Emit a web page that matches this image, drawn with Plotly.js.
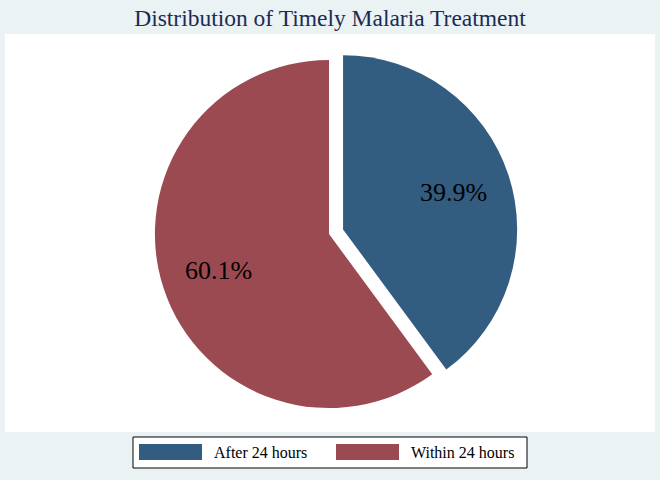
<!DOCTYPE html>
<html>
<head>
<meta charset="utf-8">
<script src="https://cdn.plot.ly/plotly-3.0.1.min.js"></script>
<style>html,body{margin:0;padding:0;background:#EAF2F3;}</style>
</head>
<body>
<div id="chart" style="width:660px;height:480px;"></div>
<script>
const labels = ["After 24 hours", "Within 24 hours"];
const values = [39.9, 60.1];
const colors = ["#335C81", "#9C4A51"];
const pulls = [0.085, 0];

const SERIF = "Liberation Serif";
const W = 660, H = 480;
const dom = {x: [0.212, 0.785], y: [0.119, 0.906]};

const trace = {
  type: "pie",
  labels: labels,
  values: values,
  sort: false,
  direction: "clockwise",
  rotation: 0,
  pull: pulls,
  marker: {colors: colors, line: {width: 0}},
  textinfo: "none",
  hoverinfo: "label+percent",
  showlegend: false,
  domain: dom
};

// slice labels placed along each slice's mid-angle
const total = values.reduce((a, b) => a + b, 0);
const cxPx = (dom.x[0] + dom.x[1]) / 2 * W;
const cyPx = (dom.y[0] + dom.y[1]) / 2 * H;
const maxPull = Math.max(...pulls);
const rPx = Math.min((dom.x[1] - dom.x[0]) * W, (dom.y[1] - dom.y[0]) * H) / 2 / (1 + maxPull);
const annotations = [];
let cum = 0;
values.forEach((v, i) => {
  const mid = (cum + v / 2) / total * 2 * Math.PI;
  cum += v;
  const d = rPx * (pulls[i] + 0.67);
  annotations.push({
    xref: "paper", yref: "paper",
    x: (cxPx + d * Math.sin(mid)) / W,
    y: (cyPx + d * Math.cos(mid)) / H,
    text: (v / total * 100).toFixed(1) + "%",
    showarrow: false, xanchor: "center", yanchor: "middle",
    font: {family: SERIF, size: 26, color: "#000000"}
  });
});

// legend (Stata style: wide swatches inside a black box)
const shapes = [{type: "rect", xref: "paper", yref: "paper", x0: 5/W, x1: 655/W, y0: 1-432/H, y1: 1-34/H,
                 fillcolor: "#FFFFFF", line: {width: 0}, layer: "below"},
                {type: "rect", xref: "paper", yref: "paper", x0: 133/W, x1: 527/W, y0: 1-468/H, y1: 1-437/H,
                 fillcolor: "#FFFFFF", line: {color: "#000000", width: 1}, layer: "below"}];
const swatchX = [139, 336];
labels.forEach((lab, i) => {
  shapes.push({type: "rect", xref: "paper", yref: "paper",
               x0: swatchX[i]/W, x1: (swatchX[i] + 63)/W, y0: 1-460/H, y1: 1-444/H,
               fillcolor: colors[i], line: {width: 0}});
  annotations.push({xref: "paper", yref: "paper", x: (swatchX[i] + 73)/W, y: 1-452/H,
                    text: lab, showarrow: false, xanchor: "left", yanchor: "middle",
                    font: {family: SERIF, size: 16, color: "#000000"}});
});

const layout = {
  width: W, height: H,
  margin: {l: 0, r: 0, t: 0, b: 0},
  paper_bgcolor: "#EAF2F3",
  plot_bgcolor: "#FFFFFF",
  title: {text: "Distribution of Timely Malaria Treatment", x: 0.5, xanchor: "center", y: 1-18/H, yanchor: "middle",
          font: {family: SERIF, size: 23.5, color: "#1C2B55"}},
  showlegend: false,
  shapes: shapes,
  annotations: annotations
};

Plotly.newPlot("chart", [trace], layout, {displayModeBar: false});
</script>
</body>
</html>
